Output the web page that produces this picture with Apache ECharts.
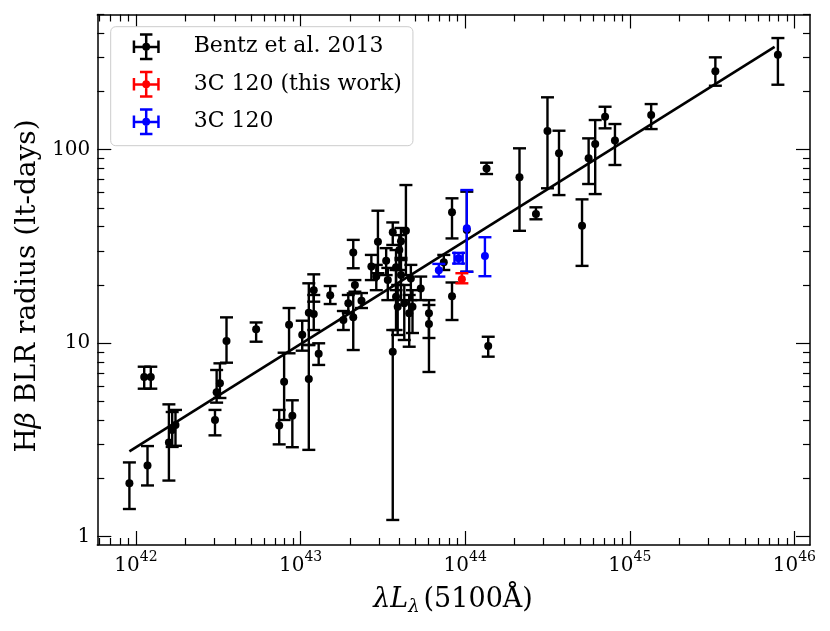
<!DOCTYPE html>
<html>
<head>
<meta charset="utf-8">
<script src="https://cdn.jsdelivr.net/npm/echarts@6/dist/echarts.min.js"></script>
<style>
  html, body { margin: 0; padding: 0; background: #fff; }
  #main { width: 830px; height: 631px; }
</style>
</head>
<body>
<div id="main"></div>
<script>
// log10 of lambda*L(5100A), BLR radius in lt-days, with the ends of the error bars
var bentzLogL = [41.96, 42.07, 42.05, 42.09, 42.20, 42.22, 42.24, 42.48, 42.49, 42.51, 42.55, 42.73,
    42.87, 42.90, 42.93, 42.95, 43.01, 43.05, 43.05, 43.08, 43.08, 43.11, 43.18, 43.26, 43.29, 43.32,
    43.32, 43.33, 43.37, 43.43, 43.46, 43.47, 43.52, 43.56, 43.56, 43.53, 43.58, 43.60, 43.61, 43.64,
    43.61, 43.58, 43.59, 43.63, 43.66, 43.68, 43.67, 43.73, 43.78, 43.78, 43.87, 43.92, 43.92, 44.01,
    44.13, 44.14, 44.33, 44.43, 44.50, 44.57, 44.71, 44.75, 44.79, 44.85, 44.91, 45.13, 45.52, 45.90];
var bentzR = [1.89, 2.33, 6.69, 6.69, 3.07, 3.56, 3.78, 4.01, 5.58, 6.21, 10.27, 11.8,
    3.76, 6.32, 12.46, 4.22, 11.07, 6.53, 14.38, 18.77, 14.16, 8.83, 17.68, 13.18, 16.08, 29.4,
    13.6, 20.0, 16.59, 24.9, 22.1, 33.5, 26.7, 37.4, 9.04, 21.2, 24.7, 30.3, 33.7, 38.1,
    22.5, 17.4, 15.44, 16.08, 14.27, 15.44, 21.6, 19.2, 14.27, 12.57, 26.2, 47.5, 17.5, 38.5,
    80.1, 9.67, 72.0, 46.5, 124.9, 95.8, 40.5, 90.3, 107.0, 148.1, 111.6, 151.1, 254.2, 309.7];
var bentzRLo = [1.39, 1.84, 5.82, 5.82, 1.95, 2.91, 2.95, 3.34, 4.93, 5.21, 7.93, 10.18,
    3.00, 4.01, 8.87, 2.90, 9.15, 2.81, 9.79, 16.39, 11.7, 7.72, 15.94, 11.7, 14.32, 24.4,
    9.22, 18.46, 15.2, 21.2, 18.8, 23.0, 22.5, 32.2, 1.22, 16.7, 18.8, 23.9, 27.6, 22.5,
    16.7, 11.7, 11.03, 10.39, 9.59, 11.29, 16.7, 16.7, 10.64, 7.10, 23.9, 34.8, 13.18, 23.4,
    74.9, 8.52, 38.1, 43.7, 63.2, 58.3, 25.1, 66.5, 59.0, 129.0, 83.4, 127.9, 214.2, 216.8];
var bentzRHi = [2.42, 2.94, 7.56, 7.56, 4.83, 4.41, 4.52, 4.52, 7.27, 7.87, 13.6, 12.8,
    4.52, 8.93, 15.2, 5.07, 13.07, 9.79, 20.4, 22.7, 17.75, 9.99, 19.75, 14.67, 17.75, 34.2,
    18.1, 21.2, 18.17, 28.6, 25.4, 48.4, 31.0, 42.1, 11.7, 24.5, 30.3, 36.2, 39.4, 65.7,
    26.9, 23.9, 20.0, 20.0, 17.75, 18.8, 25.4, 22.1, 16.7, 15.76, 28.6, 56.1, 20.6, 60.7,
    85.7, 10.8, 101.7, 50.4, 186.6, 125.4, 55.4, 114.5, 142.4, 166.8, 135.8, 172.2, 300.3, 377.8];

// 3C 120, earlier measurements
var blueLogL = [43.84, 43.96, 44.01, 44.12];
var blueLogLLo = [43.84, 43.935, 44.01, 44.12];
var blueLogLHi = [43.84, 43.985, 44.01, 44.12];
var blueR = [23.8, 27.5, 39.3, 28.2];
var blueRLo = [22.1, 25.8, 23.4, 22.2];
var blueRHi = [25.7, 29.3, 61.9, 35.3];

// 3C 120, this work
var redLogL = [43.98];
var redR = [21.4];
var redRLo = [20.4];
var redRHi = [23.0];

// R-L relation drawn across the sample
var fitLogL = [41.96, 45.88];
var fitR = [2.76, 340];

var xDecades = [42, 43, 44, 45, 46];
var yDecades = [0, 1, 2];
var xMin = 41.765, xMax = 46.095;
var yMin = -0.043, yMax = 2.699;

var FONT = 'DejaVu Serif';

function minorTicks(lo, hi) {
    var out = [];
    for (var e = Math.floor(lo); e <= Math.ceil(hi); e++) {
        for (var m = 2; m <= 9; m++) {
            var v = e + Math.log10(m);
            if (v > lo && v < hi) out.push(v);
        }
    }
    return out;
}

function errData(lx, lxLo, lxHi, r, rLo, rHi) {
    var d = [];
    for (var i = 0; i < lx.length; i++) {
        d.push([lx[i], Math.log10(r[i]), Math.log10(rLo[i]), Math.log10(rHi[i]),
            lxLo ? lxLo[i] : lx[i], lxHi ? lxHi[i] : lx[i]]);
    }
    return d;
}

function pointData(lx, r) {
    return lx.map(function (v, i) { return [v, Math.log10(r[i])]; });
}

function errRender(color) {
    return function (params, api) {
        var x = api.value(0), y = api.value(1);
        var lo = api.coord([x, api.value(2)]);
        var hi = api.coord([x, api.value(3)]);
        var c = 6.5;
        var st = { stroke: color, lineWidth: 2.4 };
        var kids = [
            { type: 'line', shape: { x1: lo[0], y1: lo[1], x2: hi[0], y2: hi[1] }, style: st },
            { type: 'line', shape: { x1: lo[0] - c, y1: lo[1], x2: lo[0] + c, y2: lo[1] }, style: st },
            { type: 'line', shape: { x1: hi[0] - c, y1: hi[1], x2: hi[0] + c, y2: hi[1] }, style: st }
        ];
        if (api.value(4) !== api.value(5)) {
            var l = api.coord([api.value(4), y]);
            var r = api.coord([api.value(5), y]);
            kids.push({ type: 'line', shape: { x1: l[0], y1: l[1], x2: r[0], y2: r[1] }, style: st });
            kids.push({ type: 'line', shape: { x1: l[0], y1: l[1] - c, x2: l[0], y2: l[1] + c }, style: st });
            kids.push({ type: 'line', shape: { x1: r[0], y1: r[1] - c, x2: r[0], y2: r[1] + c }, style: st });
        }
        return { type: 'group', children: kids };
    };
}

// legend glyph: point with x and y error bars
var errIcon = 'path://M0 12H26V14.4H0Z M11.8 0H14.2V26H11.8Z M0 7H2.4V19H0Z M23.6 7H26V19H23.6Z ' +
    'M7 0H19V2.4H7Z M7 23.6H19V26H7Z M9.2 13A3.8 3.8 0 1 1 16.8 13A3.8 3.8 0 1 1 9.2 13Z';

function xAx(pos, values, len, line, label) {
    return {
        type: 'value', position: pos, min: xMin, max: xMax,
        axisLine: { show: line, onZero: false, lineStyle: { color: '#000', width: 1.5 } },
        axisTick: { show: true, inside: true, length: len, customValues: values,
            lineStyle: { color: '#000', width: 1.2 } },
        axisLabel: label ? {
            show: true, customValues: values, margin: 5,
            formatter: function (v) { return '{b|10}{s|' + Math.round(v) + '}'; },
            rich: {
                b: { fontFamily: FONT, fontSize: 20, color: '#000', lineHeight: 26, verticalAlign: 'bottom' },
                s: { fontFamily: FONT, fontSize: 14, color: '#000', lineHeight: 14, verticalAlign: 'top' }
            }
        } : { show: false },
        splitLine: { show: false }
    };
}

function yAx(pos, values, len, line, label) {
    return {
        type: 'value', position: pos, min: yMin, max: yMax,
        axisLine: { show: line, onZero: false, lineStyle: { color: '#000', width: 1.5 } },
        axisTick: { show: true, inside: true, length: len, customValues: values,
            lineStyle: { color: '#000', width: 1.2 } },
        axisLabel: label ? {
            show: true, customValues: values, margin: 7,
            fontFamily: FONT, fontSize: 20, color: '#000',
            formatter: function (v) { return String(Math.round(Math.pow(10, v))); }
        } : { show: false },
        splitLine: { show: false }
    };
}

var xMinor = minorTicks(xMin, xMax);
var yMinor = minorTicks(yMin, yMax);

var chart = echarts.init(document.getElementById('main'));

var option = {
    animation: false,
    backgroundColor: '#fff',
    grid: { left: 97.3, right: 20, top: 14.5, bottom: 86, containLabel: false },
    xAxis: [
        xAx('bottom', xDecades, 14, true, true),
        xAx('bottom', xMinor, 7, false, false),
        xAx('top', xDecades, 14, true, false),
        xAx('top', xMinor, 7, false, false)
    ],
    yAxis: [
        yAx('left', yDecades, 14, true, true),
        yAx('left', yMinor, 7, false, false),
        yAx('right', yDecades, 14, true, false),
        yAx('right', yMinor, 7, false, false)
    ],
    legend: {
        left: 110.7, top: 26.7,
        orient: 'vertical',
        itemWidth: 27, itemHeight: 27, itemGap: 10.5,
        padding: [6.5, 11, 10.5, 22],
        backgroundColor: '#fff',
        borderColor: '#cccccc', borderWidth: 1, borderRadius: 5,
        textStyle: { fontFamily: FONT, fontSize: 22, color: '#000', padding: [0, 0, 0, 29] },
        data: [
            { name: 'Bentz et al. 2013', icon: errIcon },
            { name: '3C 120 (this work)', icon: errIcon },
            { name: '3C 120', icon: errIcon }
        ]
    },
    graphic: [
        {
            type: 'text', x: 28, y: 286, rotation: Math.PI / 2,
            style: {
                text: 'H{i|β} BLR radius (lt-days)',
                fontFamily: FONT, fontSize: 28, fill: '#000',
                align: 'center', verticalAlign: 'middle',
                rich: { i: { fontFamily: FONT, fontSize: 28, fontStyle: 'italic' } }
            }
        },
        {
            type: 'text', x: 453, y: 600,
            style: {
                text: '{i|λL}{sub|λ}{r|(5100Å)}',
                fontFamily: FONT, fontSize: 27, fill: '#000',
                align: 'center', verticalAlign: 'middle',
                rich: {
                    i: { fontFamily: FONT, fontSize: 27, fontStyle: 'italic', lineHeight: 32, verticalAlign: 'middle' },
                    sub: { fontFamily: FONT, fontSize: 18, fontStyle: 'italic', lineHeight: 18, verticalAlign: 'bottom', padding: [0, 4, 0, 0] },
                    r: { fontFamily: FONT, fontSize: 27, lineHeight: 32, verticalAlign: 'middle' }
                }
            }
        }
    ],
    series: [
        {
            name: 'bentzErr', type: 'custom', renderItem: errRender('#000'),
            data: errData(bentzLogL, null, null, bentzR, bentzRLo, bentzRHi), z: 2
        },
        {
            name: 'Bentz et al. 2013', type: 'scatter', symbol: 'circle', symbolSize: 8,
            itemStyle: { color: '#000', opacity: 1 },
            data: pointData(bentzLogL, bentzR), z: 3
        },
        {
            name: 'fit', type: 'line', showSymbol: false, symbol: 'none',
            lineStyle: { color: '#000', width: 2.6 },
            data: pointData(fitLogL, fitR), z: 4
        },
        {
            name: 'blueErr', type: 'custom', renderItem: errRender('#0000ff'),
            data: errData(blueLogL, blueLogLLo, blueLogLHi, blueR, blueRLo, blueRHi), z: 5
        },
        {
            name: '3C 120', type: 'scatter', symbol: 'circle', symbolSize: 8,
            itemStyle: { color: '#0000ff', opacity: 1 },
            data: pointData(blueLogL, blueR), z: 6
        },
        {
            name: 'redErr', type: 'custom', renderItem: errRender('#ff0000'),
            data: errData(redLogL, null, null, redR, redRLo, redRHi), z: 7
        },
        {
            name: '3C 120 (this work)', type: 'scatter', symbol: 'circle', symbolSize: 8,
            itemStyle: { color: '#ff0000', opacity: 1 },
            data: pointData(redLogL, redR), z: 8
        }
    ]
};

chart.setOption(option);
</script>
</body>
</html>
